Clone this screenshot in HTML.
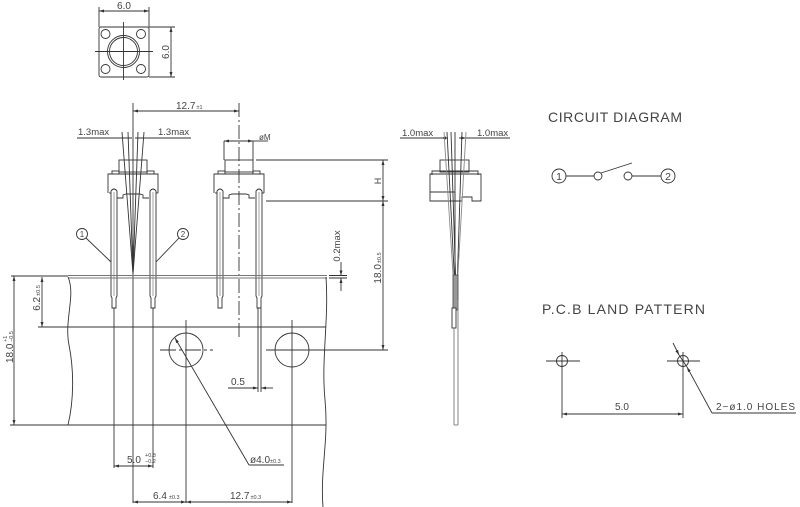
<!DOCTYPE html>
<html><head><meta charset="utf-8"><style>
html,body{margin:0;padding:0;background:#fff;}
svg{display:block;}
text{font-family:"Liberation Sans",sans-serif;fill:#444;}
</style></head><body>
<svg width="800" height="507" viewBox="0 0 800 507" xmlns="http://www.w3.org/2000/svg">
<defs>
<marker id="a" viewBox="0 0 10 6" refX="10" refY="3" markerWidth="6" markerHeight="3" orient="auto-start-reverse" markerUnits="userSpaceOnUse"><path d="M0,0 L10,3 L0,6z" fill="#333"/></marker>
<g id="sw" fill="none" stroke="#333" stroke-width="0.9">
  <rect x="-14" y="160" width="28" height="12"/>
  <rect x="-21" y="171" width="7" height="3"/>
  <rect x="14" y="171" width="7" height="3"/>
  <path d="M-25,193 V174 H25 V193"/>
  <path d="M-16,198 H-10 V195 L-7,194 H7 L10,195 V198 H16"/>
  <path d="M-22,296 V191 Q-19,187 -16,191 V296 L-17,298 V308 H-21 V298 Z"/>
  <line x1="-19" y1="192" x2="-19" y2="296" stroke="#999"/>
  <line x1="-24" y1="193" x2="-22" y2="193"/>
  <path d="M17,296 V191 Q20,187 23,191 V296 L22,298 V308 H18 V298 Z"/>
  <line x1="20" y1="192" x2="20" y2="296" stroke="#999"/>
  <line x1="23" y1="193" x2="25" y2="193"/>
</g>
</defs>

<g fill="none" stroke="#333" stroke-width="0.9">
<rect x="99" y="27" width="50" height="50" rx="2"/>
<circle cx="105.5" cy="34" r="4.5"/>
<circle cx="141" cy="34" r="4.5"/>
<circle cx="105.5" cy="69" r="4.5"/>
<circle cx="141" cy="69" r="4.5"/>
<circle cx="123.5" cy="51.5" r="16"/>
<circle cx="123.5" cy="51.5" r="14"/>
<line x1="123.5" y1="22" x2="123.5" y2="80"/>
<line x1="95" y1="51.5" x2="153" y2="51.5"/>
<line x1="99" y1="7" x2="99" y2="27"/>
<line x1="149" y1="7" x2="149" y2="27"/>
<line x1="99" y1="11" x2="149" y2="11" marker-start="url(#a)" marker-end="url(#a)"/>
<line x1="149" y1="27" x2="175" y2="27"/>
<line x1="149" y1="77" x2="175" y2="77"/>
<line x1="171" y1="27" x2="171" y2="77" marker-start="url(#a)" marker-end="url(#a)"/>

<use href="#sw" x="133" y="0"/>
<use href="#sw" x="239" y="0"/>

<line x1="133" y1="103" x2="133" y2="503"/>
<line x1="239" y1="103" x2="239" y2="337" stroke-dasharray="14,3,2,3"/>
<line x1="133" y1="111" x2="239" y2="111" marker-start="url(#a)" marker-end="url(#a)"/>

<line x1="77" y1="138" x2="132" y2="138"/>
<line x1="135" y1="138" x2="191" y2="138"/>
<line x1="122" y1="132" x2="133" y2="274"/>
<line x1="144" y1="132" x2="133" y2="274"/>
<line x1="128" y1="132" x2="133" y2="274"/>
<line x1="138" y1="132" x2="133" y2="274"/>

<line x1="224" y1="141" x2="224" y2="160"/>
<line x1="253" y1="141" x2="253" y2="160"/>
<line x1="224" y1="141" x2="253" y2="141" marker-start="url(#a)" marker-end="url(#a)"/>
<line x1="253" y1="141" x2="268" y2="141"/>

<line x1="256" y1="160" x2="388" y2="160"/>
<line x1="266" y1="201" x2="388" y2="201"/>
<line x1="266" y1="350" x2="388" y2="350"/>
<line x1="383" y1="160" x2="383" y2="201" marker-start="url(#a)" marker-end="url(#a)"/>
<line x1="383" y1="201" x2="383" y2="350" marker-start="url(#a)" marker-end="url(#a)"/>

<line x1="68" y1="275.5" x2="327" y2="275.5" stroke="#777"/>
<line x1="68" y1="278" x2="327" y2="278" stroke="#777"/>
<line x1="11" y1="276" x2="68" y2="276"/>
<line x1="38" y1="327" x2="326" y2="327"/>
<line x1="10" y1="425" x2="326" y2="425"/>
<path d="M68,277 C76,295 64,320 69,345 S74,400 68,425"/>
<path d="M326,277 C329,320 321,360 325,400 S320,470 323,507"/>

<line x1="329" y1="275.5" x2="347" y2="275.5"/>
<line x1="329" y1="278" x2="347" y2="278"/>
<line x1="341" y1="262" x2="341" y2="275.5" marker-end="url(#a)"/>
<line x1="341" y1="291" x2="341" y2="278" marker-end="url(#a)"/>

<line x1="14" y1="276" x2="14" y2="425" marker-start="url(#a)" marker-end="url(#a)"/>
<line x1="42" y1="277" x2="42" y2="327" marker-start="url(#a)" marker-end="url(#a)"/>

<circle cx="186" cy="350" r="17"/>
<circle cx="292" cy="350" r="17"/>
<line x1="160" y1="350" x2="213" y2="350" stroke-dasharray="16,3,3,3"/>
<line x1="266" y1="350" x2="318" y2="350" stroke-dasharray="16,3,3,3"/>
<line x1="186" y1="320" x2="186" y2="503"/>
<line x1="292" y1="320" x2="292" y2="503"/>

<line x1="114" y1="308" x2="114" y2="468"/>
<line x1="153" y1="308" x2="153" y2="468"/>
<line x1="258" y1="308" x2="258" y2="392"/>
<line x1="261" y1="308" x2="261" y2="392"/>

<line x1="114" y1="466" x2="153" y2="466" marker-start="url(#a)" marker-end="url(#a)"/>
<line x1="133" y1="502" x2="186" y2="502" marker-start="url(#a)" marker-end="url(#a)"/>
<line x1="186" y1="502" x2="292" y2="502" marker-start="url(#a)" marker-end="url(#a)"/>
<line x1="249" y1="465" x2="175" y2="338" marker-end="url(#a)"/>
<line x1="249" y1="465" x2="284" y2="465"/>
<line x1="228" y1="388" x2="258" y2="388" marker-end="url(#a)"/>
<line x1="273" y1="388" x2="261" y2="388" marker-end="url(#a)"/>

<circle cx="82" cy="234" r="5.5"/>
<line x1="86" y1="238" x2="111" y2="262"/>
<circle cx="183" cy="234" r="5.5"/>
<line x1="179" y1="238" x2="156" y2="262"/>

<line x1="400" y1="138" x2="448" y2="138"/>
<line x1="459" y1="138" x2="510" y2="138"/>
<line x1="441" y1="138" x2="447" y2="138" marker-start="url(#a)"/>
<line x1="460" y1="138" x2="466" y2="138" marker-end="url(#a)"/>
<rect x="440" y="160" width="29" height="12"/>
<path d="M432,175 V171 H478 V175"/>
<path d="M430,201 V174 H481 V201 H472 V197 H462 V201 Z"/>
<line x1="430" y1="192" x2="455" y2="192"/>
<line x1="455" y1="192" x2="455" y2="201"/>
<line x1="447" y1="132" x2="455" y2="290"/>
<line x1="451" y1="132" x2="456" y2="290"/>
<line x1="455" y1="132" x2="455" y2="290"/>
<line x1="462" y1="132" x2="457" y2="290"/>
<line x1="444" y1="132" x2="454" y2="290" stroke="#888"/>
<line x1="466" y1="132" x2="457" y2="290" stroke="#888"/>
<rect x="453" y="275" width="5" height="35" fill="#999" stroke="#555"/>
<rect x="452" y="308" width="4" height="20" fill="#fff" stroke="#333"/>
<line x1="454" y1="328" x2="454" y2="425" stroke="#777"/>
<line x1="458" y1="300" x2="458" y2="425" stroke="#777"/>
<line x1="454" y1="425" x2="458" y2="425" stroke="#777"/>

<circle cx="559" cy="176" r="7"/>
<line x1="566" y1="176" x2="594" y2="176"/>
<circle cx="598" cy="176" r="4"/>
<line x1="601" y1="173" x2="632" y2="163"/>
<circle cx="628" cy="176" r="4"/>
<line x1="632" y1="176" x2="661" y2="176"/>
<circle cx="668" cy="176" r="7"/>

<circle cx="562" cy="361" r="5.5"/>
<circle cx="683" cy="361" r="5.5"/>
<line x1="546" y1="361" x2="580" y2="361"/>
<line x1="667" y1="361" x2="700" y2="361"/>
<line x1="562" y1="352" x2="562" y2="418"/>
<line x1="683" y1="352" x2="683" y2="418"/>
<line x1="562" y1="414" x2="683" y2="414" marker-start="url(#a)" marker-end="url(#a)"/>
<line x1="673" y1="343" x2="679" y2="355" marker-end="url(#a)"/>
<line x1="712" y1="413" x2="687" y2="367" marker-end="url(#a)"/>
<line x1="679" y1="355" x2="687" y2="367"/>
<line x1="712" y1="413" x2="796" y2="413"/>
</g>

<g font-size="10">
<text x="124" y="9" text-anchor="middle">6.0</text>
<text transform="translate(169,52) rotate(-90)" text-anchor="middle">6.0</text>
<text x="176" y="109">12.7<tspan font-size="5.5" dx="1">±1</tspan></text>
<text x="78" y="135" font-size="9.5">1.3max</text>
<text x="158" y="135" font-size="9.5">1.3max</text>
<text x="259" y="140" font-size="8">øM</text>
<text x="402" y="136" font-size="9.5">1.0max</text>
<text x="477" y="136" font-size="9.5">1.0max</text>
<text transform="translate(381,181) rotate(-90)" text-anchor="middle" font-size="9">H</text>
<text transform="translate(340,246) rotate(-90)" text-anchor="middle" font-size="9.5">0.2max</text>
<text transform="translate(381,268) rotate(-90)" text-anchor="middle">18.0<tspan font-size="5.5" dx="1">±0.5</tspan></text>
<text transform="translate(40,298) rotate(-90)" text-anchor="middle">6.2<tspan font-size="5.5" dx="1">±0.5</tspan></text>
<text transform="translate(13,363) rotate(-90)">18.0</text>
<text transform="translate(7,342) rotate(-90)" font-size="5.5">+1</text>
<text transform="translate(13,342) rotate(-90)" font-size="5.5">−0.5</text>
<text x="231" y="385">0.5</text>
<text x="127" y="463">5.0</text>
<text x="145" y="457" font-size="5.5">+0.8</text>
<text x="145" y="463" font-size="5.5">−0.2</text>
<text x="153" y="499">6.4<tspan font-size="5.5" dx="2">±0.3</tspan></text>
<text x="230" y="499">12.7<tspan font-size="5.5" dx="1">±0.3</tspan></text>
<text x="250" y="463">ø4.0<tspan font-size="5.5">±0.3</tspan></text>
<text x="82" y="237" font-size="8" text-anchor="middle">1</text>
<text x="183" y="237" font-size="8" text-anchor="middle">2</text>
<text x="559" y="180" font-size="10.5" text-anchor="middle">1</text>
<text x="668" y="180" font-size="10.5" text-anchor="middle">2</text>
<text x="622" y="410" text-anchor="middle">5.0</text>
<text x="716" y="410" textLength="79" lengthAdjust="spacing">2−ø1.0 HOLES</text>
</g>
<text x="548" y="122" font-size="14" textLength="134" lengthAdjust="spacing" fill="#555">CIRCUIT DIAGRAM</text>
<text x="542" y="314" font-size="14" textLength="163" lengthAdjust="spacing" fill="#555">P.C.B LAND PATTERN</text>
</svg>
</body></html>
